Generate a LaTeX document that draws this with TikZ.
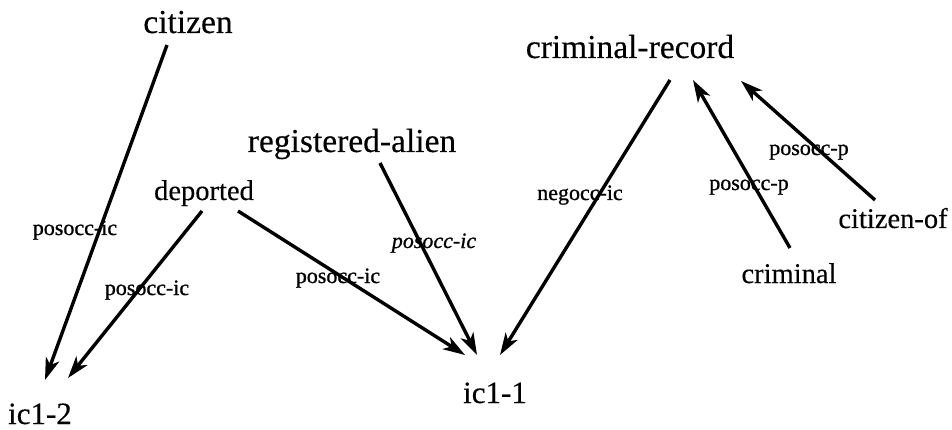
\documentclass[tikz,border=0pt]{standalone}
\usepackage{fontspec}
\setmainfont{Liberation Serif}
\newfontfamily\nodeserif[FakeBold=0.3]{Liberation Serif}
\newfontfamily\relserif[FakeBold=0.9]{Liberation Serif}
\usetikzlibrary{arrows.meta}
\begin{document}
\begin{tikzpicture}[x=1pt,y=-1pt,
  concept/.style={inner sep=0pt,anchor=base,font=\nodeserif\fontsize{33.5}{36}\selectfont},
  minor/.style={inner sep=0pt,anchor=base,font=\nodeserif\fontsize{28.5}{31}\selectfont},
  inst/.style={inner sep=0pt,anchor=base,font=\nodeserif\fontsize{31}{34}\selectfont},
  rel/.style={inner sep=0pt,anchor=base,font=\relserif\fontsize{22}{24}\selectfont},
  link/.style={line width=3.4pt,-{Stealth[length=22pt,width=14pt,inset=6pt]}}]
\useasboundingbox (0,0) rectangle (952,430);

% concepts
\node[concept] (citizen) at (188,33) {citizen};
\node[concept] (regalien) at (352,152) {registered-alien};
\node[concept] (crimrec) at (630,58) {criminal-record};
\node[minor] (deported) at (204,200) {deported};
\node[minor] (criminal) at (789,283) {criminal};
\node[minor] (citizenof) at (893,228) {citizen-of};
\node[inst] (icA) at (495,403) {ic1-1};
\node[inst] (icB) at (40,424) {ic1-2};

% relations
\draw[link] ([shift={(-21,12)}]citizen.base) -- ([shift={(5,-44)}]icB.base);
\draw[link] ([shift={(-2,11)}]deported.base) -- ([shift={(28,-46)}]icB.base);
\draw[link] ([shift={(34,11)}]deported.base) -- ([shift={(-30,-48)}]icA.base);
\draw[link] ([shift={(28,11)}]regalien.base) -- ([shift={(-18,-48)}]icA.base);
\draw[link] ([shift={(40,22)}]crimrec.base) -- ([shift={(5,-48)}]icA.base);
\draw[link] ([shift={(1,-35)}]criminal.base) -- ([shift={(63,22)}]crimrec.base);
\draw[link] ([shift={(-18,-28)}]citizenof.base) -- ([shift={(111,23)}]crimrec.base);

% relation labels
\node[rel] (l1) at (75,235) {posocc-ic};
\node[rel] (l2) at (147,295) {posocc-ic};
\node[rel] (l3) at (338,283) {posocc-ic};
\node[rel,font=\relserif\fontsize{22}{24}\selectfont\itshape] (l4) at (434,248) {posocc-ic};
\node[rel] (l5) at (580,200) {negocc-ic};
\node[rel] (l6) at (749,190) {posocc-p};
\node[rel] (l7) at (809,155) {posocc-p};
\end{tikzpicture}
\end{document}
